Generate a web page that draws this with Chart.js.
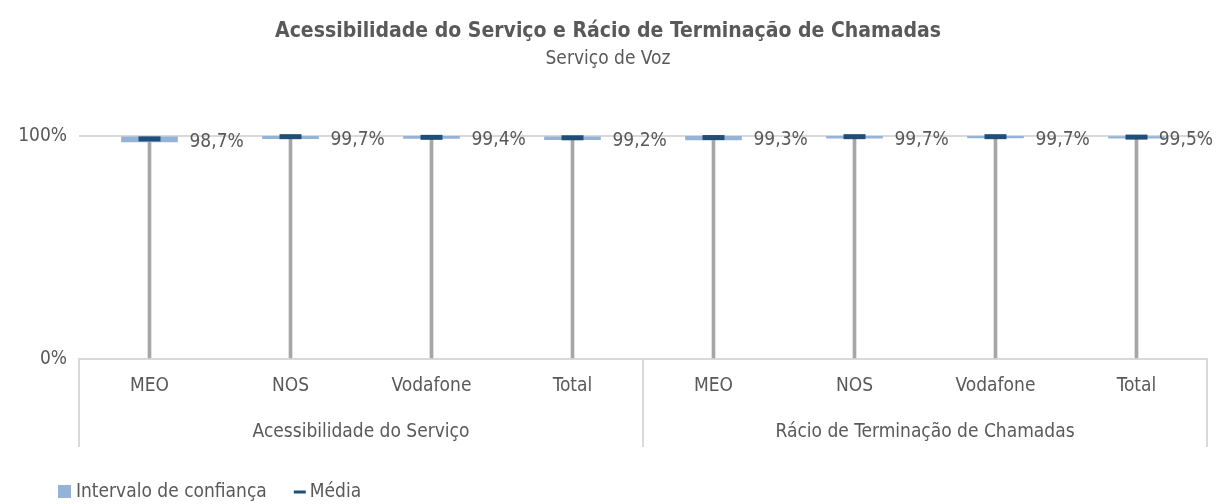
<!DOCTYPE html>
<html lang="pt">
<head>
  <meta charset="UTF-8">
  <title>Acessibilidade do Serviço e Rácio de Terminação de Chamadas</title>
  <script src="https://cdn.jsdelivr.net/npm/chart.js"></script>
  <style>
    body { margin: 0; background: #fff; }
    canvas { display: block; }
  </style>
</head>
<body>

<canvas id="chart" width="1216" height="504"></canvas>

<script>
// operators repeated for the two indicators
const categories = ['MEO', 'NOS', 'Vodafone', 'Total', 'MEO', 'NOS', 'Vodafone', 'Total'];
const groups = ['Acessibilidade do Serviço', 'Rácio de Terminação de Chamadas'];
const means = [98.7, 99.7, 99.4, 99.2, 99.3, 99.7, 99.7, 99.5];
const ciLow = [97.4, 98.8, 98.9, 98.3, 98.2, 99.0, 99.1, 99.0];
const ciHigh = [99.6, 99.9, 99.9, 99.6, 99.8, 99.9, 99.9, 99.7];
const yTicks = [0, 100];

const FONT = "'Liberation Sans Narrow', 'Arial Narrow', 'DejaVu Sans Condensed', sans-serif";
const TEXT = '#595959';
const LINE = '#d9d9d9';
const CI_COLOR = '#95b3d7';
const MEAN_COLOR = '#1f4e79';

const fmt = v => v.toFixed(1).replace('.', ',') + '%';

// value labels to the right of each marker
const valueLabels = {
  id: 'valueLabels',
  afterDatasetsDraw(chart) {
    const meta = chart.getDatasetMeta(2);
    const ctx = chart.ctx;
    ctx.save();
    ctx.font = '19px ' + FONT;
    ctx.fillStyle = TEXT;
    ctx.textAlign = 'left';
    ctx.textBaseline = 'middle';
    meta.data.forEach((pt, i) => {
      const txt = fmt(means[i]);
      const w = ctx.measureText(txt).width;
      const x = Math.min(pt.x + 40, chart.width - w - 3);
      ctx.fillText(txt, x, pt.y + 3);
    });
    ctx.restore();
  }
};

// two-level category axis: boxes and group names, plus the legend
const groupAxis = {
  id: 'groupAxis',
  afterDraw(chart) {
    const { ctx, chartArea } = chart;
    const x = chart.scales.x;
    const top = chartArea.bottom;
    const bottom = top + 88;
    const per = categories.length / groups.length;
    ctx.save();
    ctx.strokeStyle = LINE;
    ctx.lineWidth = 2;
    for (let g = 0; g <= groups.length; g++) {
      let px;
      if (g === 0) px = chartArea.left;
      else if (g === groups.length) px = chartArea.right;
      else px = (x.getPixelForValue(g * per - 1) + x.getPixelForValue(g * per)) / 2;
      ctx.beginPath();
      ctx.moveTo(px, top);
      ctx.lineTo(px, bottom);
      ctx.stroke();
    }
    ctx.font = '19px ' + FONT;
    ctx.fillStyle = TEXT;
    ctx.textAlign = 'center';
    ctx.textBaseline = 'middle';
    groups.forEach((name, g) => {
      const a = x.getPixelForValue(g * per);
      const b = x.getPixelForValue(g * per + per - 1);
      ctx.fillText(name, (a + b) / 2, top + 73);
    });

    // legend
    const ly = 492;
    let lx = 58;
    ctx.textAlign = 'left';
    ctx.fillStyle = CI_COLOR;
    ctx.fillRect(lx, ly - 7, 13, 13);
    lx += 18;
    ctx.fillStyle = TEXT;
    const t1 = 'Intervalo de confiança';
    ctx.fillText(t1, lx, ly);
    lx += ctx.measureText(t1).width + 27;
    ctx.strokeStyle = MEAN_COLOR;
    ctx.lineWidth = 3;
    ctx.beginPath();
    ctx.moveTo(lx, ly);
    ctx.lineTo(lx + 12, ly);
    ctx.stroke();
    lx += 16;
    ctx.fillText('Média', lx, ly);
    ctx.restore();
  }
};

new Chart(document.getElementById('chart'), {
  data: {
    labels: categories,
    datasets: [
      {
        type: 'bar',
        label: 'linha',
        data: means,
        backgroundColor: '#a6a6a6',
        barThickness: 3,
        grouped: false,
        order: 3
      },
      {
        type: 'bar',
        label: 'Intervalo de confiança',
        data: ciLow.map((v, i) => [v, ciHigh[i]]),
        backgroundColor: CI_COLOR,
        barThickness: 56,
        grouped: false,
        order: 2
      },
      {
        type: 'line',
        label: 'Média',
        data: means,
        showLine: false,
        clip: false,
        pointStyle: 'line',
        pointRadius: 11,
        pointHoverRadius: 11,
        pointBorderWidth: 5,
        borderColor: MEAN_COLOR,
        pointBorderColor: MEAN_COLOR,
        backgroundColor: MEAN_COLOR,
        order: 1
      }
    ]
  },
  options: {
    responsive: false,
    animation: false,
    events: [],
    layout: { autoPadding: false, padding: { left: 0, right: 0, top: 0, bottom: 0 } },
    plugins: {
      title: {
        display: true,
        text: 'Acessibilidade do Serviço e Rácio de Terminação de Chamadas',
        color: TEXT,
        font: { family: FONT, size: 21, weight: 'bold' },
        padding: { top: 19, bottom: 0 }
      },
      subtitle: {
        display: true,
        text: 'Serviço de Voz',
        color: TEXT,
        font: { family: FONT, size: 19 },
        padding: { top: 3, bottom: 66 }
      },
      legend: { display: false },
      tooltip: { enabled: false }
    },
    scales: {
      x: {
        type: 'category',
        grid: { display: false, drawTicks: false },
        border: { display: true, color: LINE, width: 2 },
        ticks: { color: TEXT, font: { family: FONT, size: 19 }, padding: 16, maxRotation: 0 },
        afterFit: scale => {
          scale.height = 145;
          scale.paddingLeft = 0;
          scale.paddingRight = 9;
        }
      },
      y: {
        min: yTicks[0],
        max: yTicks[yTicks.length - 1],
        afterBuildTicks: scale => { scale.ticks = yTicks.map(v => ({ value: v })); },
        grid: { color: LINE, lineWidth: 2, drawTicks: false },
        border: { display: false },
        ticks: {
          color: TEXT,
          font: { family: FONT, size: 19 },
          padding: 12,
          callback: v => v + '%'
        },
        afterFit: scale => { scale.width = 79; }
      }
    }
  },
  plugins: [valueLabels, groupAxis]
});
</script>

</body>
</html>
